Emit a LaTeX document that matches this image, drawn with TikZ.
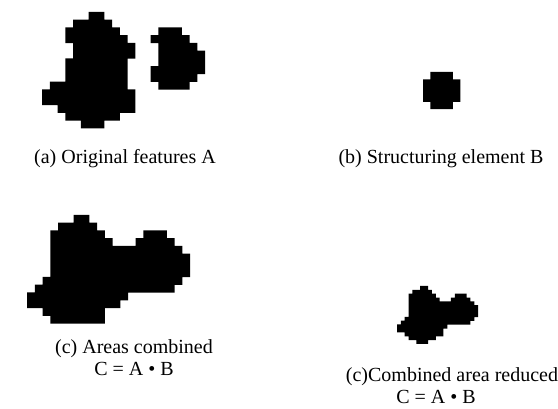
\documentclass[tikz,border=0pt]{standalone}
\usepackage{fontspec}
\setmainfont{Liberation Serif}
\newcommand\pixblob[4]{%
  \fill[black] \foreach \r/\a/\b in {#4} {%
    ({#1+\a*#3},{#2+\r*#3}) rectangle ({#1+(\b+1)*#3+0.25},{#2+(\r+1)*#3+0.25})};%
}
\begin{document}
\begin{tikzpicture}[x=1pt,y=-1pt,
  lbl/.style={font=\fontsize{20}{23}\selectfont, inner sep=0pt, anchor=base}]
\useasboundingbox (0,0) rectangle (558,409);
% (a) original features A
\pixblob{42}{12}{7.75}{0/6/7,1/4/8,2/3/9,3/3/10,4/4/11,5/4/11,6/3/10,7/3/10,8/3/10,9/1/10,10/0/11,11/0/11,12/2/11,13/3/9,14/5/7}
\pixblob{42}{12}{7.75}{2/15/17,3/14/18,4/15/19,5/15/20,6/15/20,7/14/20,8/14/19,9/15/18}
% (b) structuring element B
\pixblob{423}{72}{7.4}{0/1/3,1/0/4,2/0/4,3/0/4,4/1/3}
% (c) combined
\pixblob{27}{215}{7.75}{0/6/7,1/4/8,2/3/9,2/15/17,3/3/10,3/14/18,4/3/19,5/3/20,6/3/20,7/3/20,8/2/19,9/1/18,10/0/12,11/0/11,12/2/9,13/3/9}
% (c) reduced
\pixblob{397}{286}{3.85}{0/6/7,1/4/8,2/3/9,2/15/17,3/3/10,3/14/18,4/3/19,5/3/20,6/3/20,7/3/20,8/2/19,9/1/18,10/0/12,11/0/11,12/2/11,13/3/9,14/5/7}
% labels
\node[lbl] (la) at (125,164) {(a) Original features A};
\node[lbl] (lb) at (441,164) {(b) Structuring element B};
\node[lbl] (lc1) at (134,354) {(c) Areas combined};
\node[lbl] (lc2) at (134,376) {C = A • B};
\node[lbl] (ld1) at (452,382) {(c)Combined area reduced};
\node[lbl] (ld2) at (436,404) {C = A • B};
\end{tikzpicture}
\end{document}
